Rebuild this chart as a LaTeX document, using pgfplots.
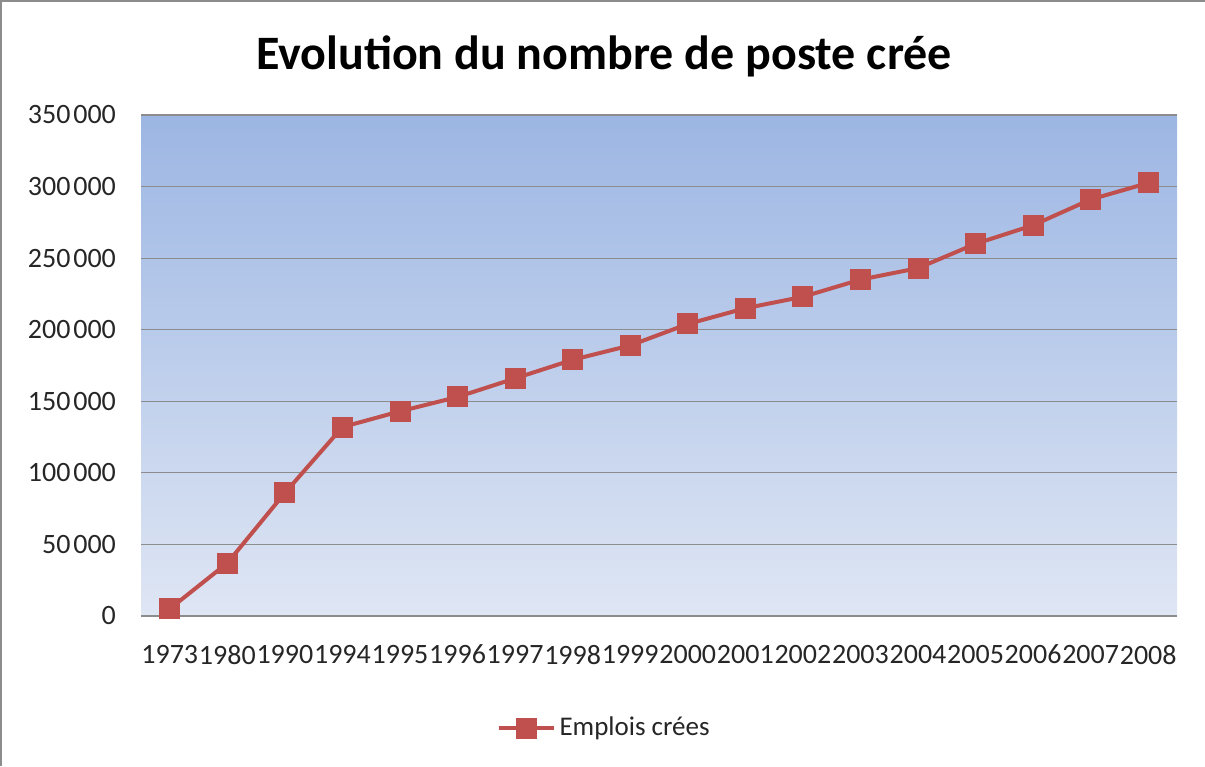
\documentclass[border=0pt]{standalone}
\usepackage{fontspec}
\setmainfont{Carlito}
\usepackage{pgfplots}
\pgfplotsset{compat=1.18}
\definecolor{linered}{HTML}{C0504D}
\definecolor{bgtop}{HTML}{9CB6E3}
\definecolor{bgbot}{HTML}{DFE6F4}
\definecolor{gridgray}{HTML}{8C8C8C}
\newcommand{\ts}{\hspace{0.1em}}
\begin{document}
\begin{tikzpicture}
\path[use as bounding box] (0,0) rectangle (602.5pt,383pt);
\draw[color=gray!90, line width=1.2pt] (0.6pt,0) -- (0.6pt,382.4pt) -- (602.5pt,382.4pt);
\node[font=\fontsize{24}{28}\selectfont\bfseries] at (302pt,355pt) {Evolution du nombre de poste crée};
\begin{axis}[
  at={(70.5pt,75pt)}, anchor=south west,
  scale only axis, width=518pt, height=250.5pt,
  xmin=-0.5, xmax=17.5, ymin=0, ymax=350000,
  scaled y ticks=false,
  xtick={0,...,17},
  xticklabels={1973,1980,1990,1994,1995,1996,1997,1998,1999,2000,2001,2002,2003,2004,2005,2006,2007,2008},
  ytick={0,50000,100000,150000,200000,250000,300000,350000},
  yticklabels={0,50\ts000,100\ts000,150\ts000,200\ts000,250\ts000,300\ts000,350\ts000},
  tick label style={font=\fontsize{14}{16}\selectfont, text=black!85},
  xticklabel style={yshift=-11pt},
  yticklabel style={xshift=-9pt},
  major tick length=0pt,
  axis line style={draw=none},
  axis x line*=bottom,
  x axis line style={draw=gridgray, line width=0.6pt},
  ymajorgrids, grid style={draw=gridgray, line width=0.6pt},
  axis background/.style={top color=bgtop, bottom color=bgbot},
  legend style={at={(0.448,-0.2236)}, anchor=center, draw=none, fill=none,
    font=\fontsize{13.5}{15}\selectfont, text=black!85},
  legend image code/.code={
    \draw[#1, mark=none] (0pt,0pt) -- (27.5pt,0pt);
    \draw[#1, only marks] plot coordinates {(13.75pt,0pt)};
  },
]
\addplot[color=linered, line width=2pt, mark=square*, mark size=5pt, mark options={solid, fill=linered, line width=0pt}]
coordinates {
(0,5000) (1,37000) (2,86000) (3,132000) (4,143000) (5,153000) (6,166000) (7,179000) (8,189000)
(9,204000) (10,215000) (11,223000) (12,235000) (13,243000) (14,260000) (15,273000) (16,291000) (17,302500)
};
\addlegendentry{Emplois crées}
\end{axis}
\end{tikzpicture}
\end{document}
